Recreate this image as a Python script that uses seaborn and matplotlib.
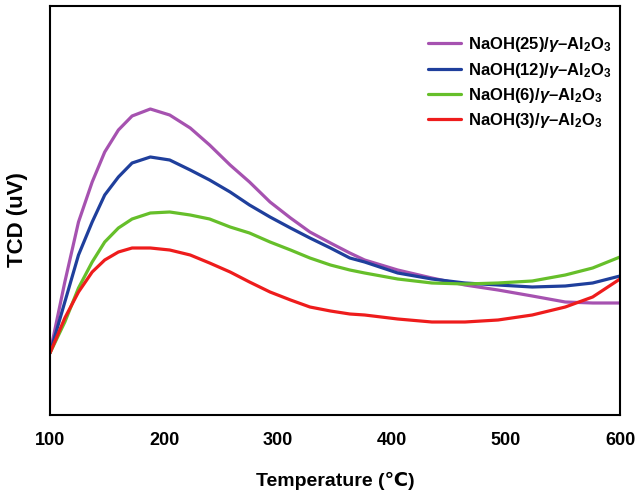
import numpy as np
import pandas as pd
import matplotlib
matplotlib.use("Agg")
import matplotlib.pyplot as plt
import seaborn as sns

# temperaturas (°C)
temp = [100, 113, 125, 137, 148, 160, 172, 188, 205, 223, 240, 258, 275, 293,
        311, 328, 346, 363, 376, 405, 435, 464, 493, 523, 552, 576, 600]

# sinal TCD (unidades arbitrárias)
tcd_25 = [62, 133, 193, 233, 263, 285, 299, 306, 300, 287, 270, 250, 233, 213,
          197, 183, 172, 162, 155, 145, 137, 130, 125, 119, 113, 112, 112]
tcd_12 = [62, 113, 160, 193, 220, 238, 252, 258, 255, 245, 235, 223, 210, 198,
          187, 177, 167, 157, 153, 142, 136, 132, 130, 128, 129, 132, 139]
tcd_6 = [62, 93, 127, 153, 173, 187, 196, 202, 203, 200, 196, 188, 182, 173,
         165, 157, 150, 145, 142, 136, 132, 131, 132, 134, 140, 147, 158]
tcd_3 = [62, 97, 123, 143, 155, 163, 167, 167, 165, 160, 152, 143, 133, 123,
         115, 108, 104, 101, 100, 96, 93, 93, 95, 100, 108, 118, 136]

rotulos = ["NaOH(25)/$\\gamma$\u2013Al$_2$O$_3$",
           "NaOH(12)/$\\gamma$\u2013Al$_2$O$_3$",
           "NaOH(6)/$\\gamma$\u2013Al$_2$O$_3$",
           "NaOH(3)/$\\gamma$\u2013Al$_2$O$_3$"]
cores = ["#a652b0", "#1f3f9c", "#66bf2a", "#ee1c1c"]

sns.set_style("white")
plt.rcParams['font.family'] = ['Liberation Sans', 'DejaVu Sans']
plt.rcParams['font.weight'] = 'bold'
plt.rcParams['text.color'] = 'black'
plt.rcParams['axes.labelcolor'] = 'black'
plt.rcParams['xtick.color'] = 'black'
plt.rcParams['mathtext.fontset'] = 'custom'
plt.rcParams['mathtext.rm'] = 'Liberation Sans:bold'
plt.rcParams['mathtext.it'] = 'Liberation Sans:italic:bold'
plt.rcParams['mathtext.bf'] = 'Liberation Sans:bold'

fig = plt.figure(figsize=(6.38, 4.95), dpi=100)
ax = fig.add_axes([50 / 638, 1 - 415 / 495, 570 / 638, 409 / 495])

for serie, rot, cor in zip([tcd_25, tcd_12, tcd_6, tcd_3], rotulos, cores):
    df = pd.DataFrame({"T": temp, "y": serie})
    sns.lineplot(data=df, x="T", y="y", ax=ax, color=cor, lw=2.3, label=rot)

ax.set_xlim(100, 600)
ax.set_ylim(0, 409)
ax.set_xticks([100, 200, 300, 400, 500, 600])
ax.set_yticks([])
ax.tick_params(axis='x', direction='in', length=5, width=1.3, labelsize=13,
               pad=12, colors='black')
for s in ax.spines.values():
    s.set_linewidth(1.5)
    s.set_color("black")

ax.set_xlabel("Temperature (\u2103)", fontsize=14, fontweight='bold', labelpad=17)
ax.set_ylabel("TCD (uV)", fontsize=16, fontweight='bold')
ax.yaxis.set_label_coords(-0.038, 0.477)

leg = ax.legend(loc='upper right', frameon=False, fontsize=12, handlelength=2.0,
                handletextpad=0.4, labelspacing=0.38,
                bbox_to_anchor=(1.012, 0.965))

fig.savefig("out.png", dpi=100)
